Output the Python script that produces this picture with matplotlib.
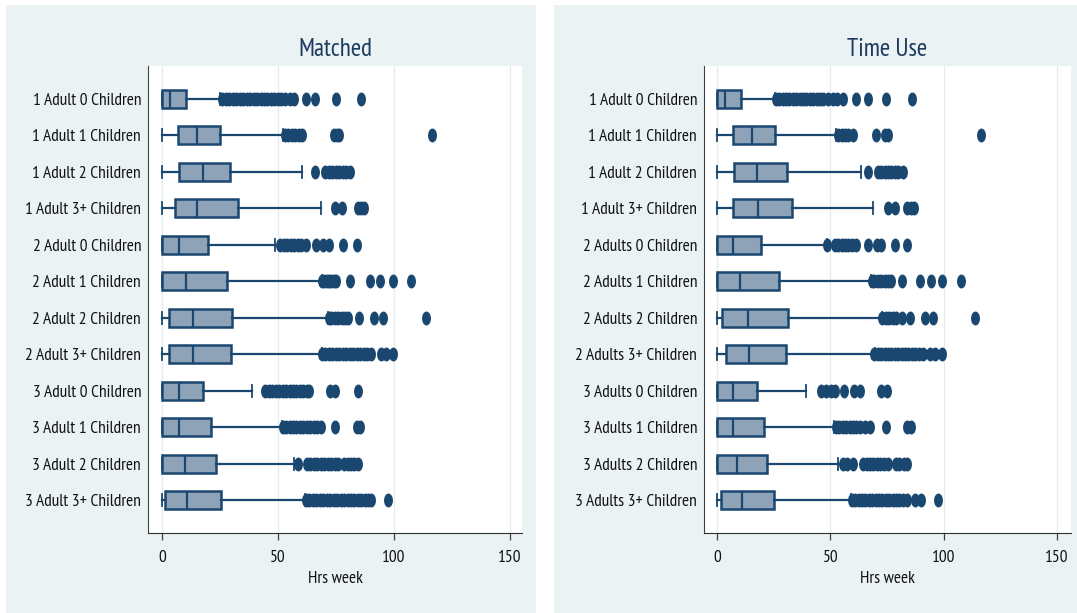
import matplotlib
matplotlib.use('Agg')
import matplotlib.pyplot as plt
from matplotlib.patches import Rectangle
from matplotlib.path import Path
from matplotlib.transforms import Affine2D

plt.rcParams['font.family'] = ['PT Sans Narrow', 'DejaVu Sans']

# ---- data ----
labels_m = ["1 Adult 0 Children", "1 Adult 1 Children", "1 Adult 2 Children", "1 Adult 3+ Children",
            "2 Adult 0 Children", "2 Adult 1 Children", "2 Adult 2 Children", "2 Adult 3+ Children",
            "3 Adult 0 Children", "3 Adult 1 Children", "3 Adult 2 Children", "3 Adult 3+ Children"]
labels_t = ["1 Adult 0 Children", "1 Adult 1 Children", "1 Adult 2 Children", "1 Adult 3+ Children",
            "2 Adults 0 Children", "2 Adults 1 Children", "2 Adults 2 Children", "2 Adults 3+ Children",
            "3 Adults 0 Children", "3 Adults 1 Children", "3 Adults 2 Children", "3 Adults 3+ Children"]

whislo_m = [0, 0, 0, 0, 0, 0, 0, 0, 0, 0, 0, 0]
q1_m = [0, 7, 7.3, 5.7, 0, 0, 2.9, 3, 0, 0, 0, 1.3]
med_m = [3.5, 15, 17.5, 15, 7.2, 10.5, 13.5, 13.5, 7.2, 7.2, 10, 11]
q3_m = [10.3, 25, 29.2, 32.6, 19.8, 28, 30, 29.6, 17.5, 21, 23.3, 25.6]
whishi_m = [25, 52, 60.5, 68.5, 48.7, 68.8, 71.7, 68.8, 39, 51.6, 57, 61.6]
fliers_m = [
    [26, 27.5, 29, 30.5, 32, 33.5, 35, 36.5, 38, 39.5, 41, 42.5, 44, 45.5, 47, 48.5, 50, 51.5, 53, 55, 57,
     62, 66, 75, 86],
    [53, 54.5, 56, 57.5, 59, 60.5, 74, 75.5, 76.5, 116.5],
    [66, 70.5, 72, 73.5, 75, 76.5, 78, 79.5, 81],
    [74.5, 77.5, 84.5, 86, 87],
    [51, 52.5, 54, 55.5, 57, 58.5, 60, 62, 66.5, 69.5, 72, 78, 84],
    [69, 70, 71, 72, 73, 74, 75, 81, 89.5, 94, 99.5, 107.5],
    [72, 73, 74.5, 76, 77.5, 79, 80, 85, 91.5, 95.5, 114],
    [69, 70.5, 72, 73.5, 75, 76.5, 78, 79.5, 81, 82.5, 84, 85.5, 87, 88.5, 90, 94.5, 96.5, 99.5],
    [44.5, 46, 47.5, 49, 50.5, 52, 53.5, 55, 56.5, 58, 59.5, 61, 62.5, 63.5, 72.5, 74.5, 84.5],
    [52, 53.5, 55, 56.5, 58, 59.5, 61, 62.5, 64, 65.5, 67, 68.5, 74.5, 84, 85.5],
    [58.5, 62.5, 64, 65.5, 67, 68.5, 70, 71.5, 73, 74.5, 76, 78.5, 80, 81.5, 83, 84.5],
    [62, 63.5, 65, 66.5, 68, 69.5, 71, 72.5, 74, 75.5, 77, 78.5, 80, 81.5, 83, 84.5, 86, 87.5, 89, 90, 97.5],
]

whislo_t = [0, 0, 0, 0, 0, 0, 0, 0, 0, 0, 0, 0]
q1_t = [0, 7.2, 7.6, 7.2, 0, 0, 2.3, 3.8, 0, 0, 0, 1.6]
med_t = [3.5, 15.3, 17.8, 18.2, 7.2, 10.1, 13.8, 14.2, 7.2, 7.2, 9, 11.1]
q3_t = [10.7, 25.7, 30.8, 33.3, 19.4, 27.5, 31.3, 30.3, 17.8, 20.8, 22.2, 25.1]
whishi_t = [25.5, 52.7, 63.7, 68.9, 48.6, 67.8, 73, 69.6, 39.2, 51.7, 53.4, 59.3]
fliers_t = [
    [26, 27.5, 29, 30.5, 32, 33.5, 35, 36.5, 38, 39.5, 41, 42.5, 44, 45.5, 47, 49, 51, 53, 55.5,
     61.5, 66.5, 74.5, 86],
    [53.5, 55, 56.5, 58, 60, 70, 74, 75.5, 116.5],
    [66.5, 71, 72.5, 74, 75.5, 77, 78.5, 80, 82],
    [75.5, 78.5, 84, 85.5, 87],
    [48.5, 52, 53.5, 55, 56.5, 58, 59.5, 61.5, 66.5, 70.5, 72.5, 78.5, 84],
    [68.5, 69.5, 71, 72.5, 74, 75.5, 77, 81.5, 89.5, 94.5, 99.5, 107.5],
    [73, 74.5, 76, 77.5, 79, 81.5, 85, 92, 95.5, 114],
    [69.5, 71, 72.5, 74, 75.5, 77, 78.5, 80, 81.5, 83, 84.5, 86, 87.5, 89, 91, 94, 96, 99.5],
    [46, 48, 50.5, 52, 56, 60.5, 63, 72.5, 75],
    [52.5, 54, 55.5, 57, 58.5, 60, 61.5, 63, 65.5, 67.5, 74.5, 84, 85.5],
    [55.5, 57.5, 60, 64.5, 66, 67.5, 69, 70.5, 72, 73.5, 75.5, 79, 80.5, 82.5, 84],
    [59.5, 61, 62.5, 64, 65.5, 67, 68.5, 70, 71.5, 73, 74.5, 76, 77.5, 79, 80.5, 82, 84, 87.5, 90, 97.5],
]

navy = '#1a476f'
box_fill = '#8fa3b8'
panel_bg = '#eaf2f3'

# squeezed circle marker, like the reference's outlier dots
dot = Path.unit_circle().transformed(Affine2D().scale(0.6, 1.0))


def make_stats(labels, whislo, q1, med, q3, whishi, fliers):
    stats = []
    for i in range(len(labels)):
        stats.append({'label': labels[i], 'whislo': whislo[i], 'q1': q1[i], 'med': med[i],
                      'q3': q3[i], 'whishi': whishi[i], 'fliers': fliers[i]})
    return stats


def draw_panel(ax, stats, title, xlim):
    n = len(stats)
    ax.bxp(stats, positions=range(1, n + 1), orientation='horizontal', widths=0.5,
           capwidths=0.33, patch_artist=True, showfliers=True,
           boxprops=dict(facecolor=box_fill, edgecolor=navy, linewidth=1.8),
           medianprops=dict(color=navy, linewidth=1.6),
           whiskerprops=dict(color=navy, linewidth=1.6),
           capprops=dict(color=navy, linewidth=1.3),
           flierprops=dict(marker=dot, markersize=9, markerfacecolor=navy,
                           markeredgecolor=navy, linestyle='none'))
    ax.set_xlim(*xlim)
    ax.set_ylim(n + 0.9, 0.1)
    ax.set_xticks([0, 50, 100, 150])
    ax.set_xticklabels(['0', '50', '100', '150'])
    ax.set_yticks(range(1, n + 1))
    ax.set_yticklabels([s['label'] for s in stats])
    ax.grid(axis='x', color='#e2ebee', linewidth=0.9)
    ax.set_axisbelow(True)
    for side in ('top', 'right'):
        ax.spines[side].set_visible(False)
    ax.spines['left'].set_color('#404040')
    ax.spines['bottom'].set_color('#303030')
    ax.tick_params(axis='y', length=0, pad=5, labelsize=12.5, labelcolor='#111111')
    ax.tick_params(axis='x', length=5, width=0.9, color='#404040', pad=7, labelsize=12.5,
                   labelcolor='#111111')
    ax.set_xlabel('Hrs week', fontsize=12.5, labelpad=4, color='#111111')
    ax.set_title(title, fontsize=18, color='#1e3a5f', pad=7)


fig = plt.figure(figsize=(10.77, 6.13), dpi=100)
fig.patches.append(Rectangle((6 / 1077, 0), 530 / 1077, 1 - 5 / 613, transform=fig.transFigure,
                             facecolor=panel_bg, edgecolor='none', zorder=-10))
fig.patches.append(Rectangle((554 / 1077, 0), 523 / 1077, 1 - 5 / 613, transform=fig.transFigure,
                             facecolor=panel_bg, edgecolor='none', zorder=-10))

ax1 = fig.add_axes([148 / 1077, 1 - 533 / 613, 374 / 1077, 467 / 613])
ax2 = fig.add_axes([704 / 1077, 1 - 533 / 613, 367 / 1077, 467 / 613])

draw_panel(ax1, make_stats(labels_m, whislo_m, q1_m, med_m, q3_m, whishi_m, fliers_m), 'Matched',
           (-6.0, 155.2))
draw_panel(ax2, make_stats(labels_t, whislo_t, q1_t, med_t, q3_t, whishi_t, fliers_t), 'Time Use',
           (-5.7, 156.2))

fig.savefig('out.png', dpi=100, facecolor='white')
